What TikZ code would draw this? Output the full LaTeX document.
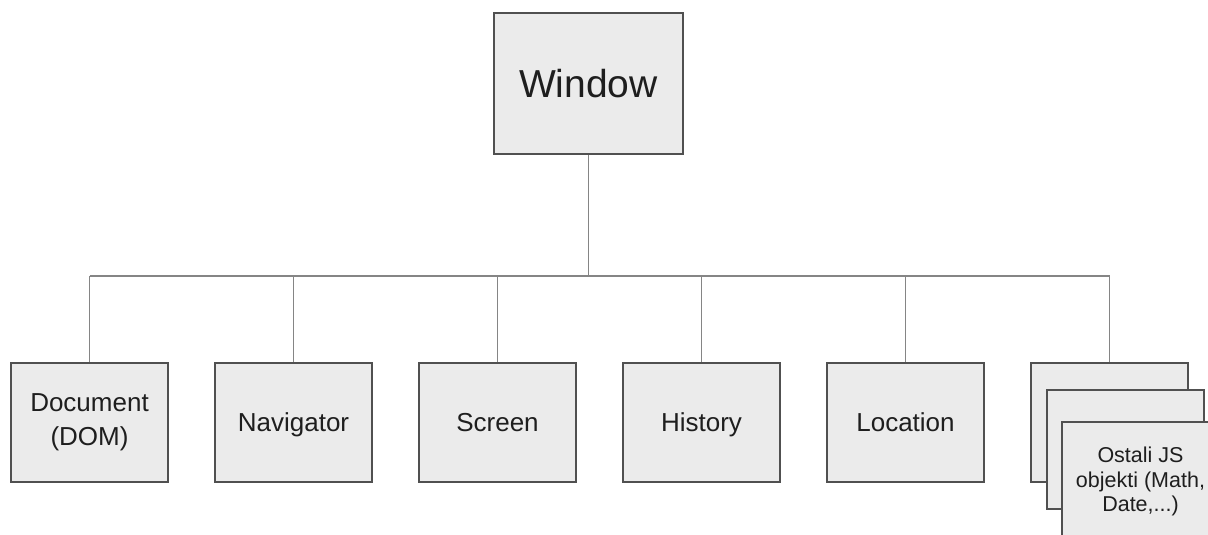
\documentclass[tikz,border=0pt]{standalone}
\usepackage{fontspec}
\setmainfont{Liberation Sans}
\definecolor{boxfill}{HTML}{EBEBEB}
\definecolor{boxedge}{HTML}{505050}
\definecolor{wire}{HTML}{858585}
\definecolor{ink}{HTML}{1E1E1E}
\tikzset{
  objbox/.style={draw=boxedge, line width=2pt, fill=boxfill, text=ink,
    minimum width=157pt, minimum height=119pt, inner sep=0pt,
    align=center, font=\fontsize{26}{34}\selectfont},
  oneline/.style={text height=18.6pt, text depth=0pt},
  rootbox/.style={objbox, minimum width=189pt, minimum height=141pt,
    font=\fontsize{39}{44}\selectfont, text height=27.9pt, text depth=0pt},
  stackbox/.style={objbox, font=\fontsize{21.5}{24.5}\selectfont},
  wire/.style={draw=wire, line width=1.5pt}
}
\begin{document}
\begin{tikzpicture}[x=1pt, y=-1pt]
\useasboundingbox (0,0) rectangle (1208,535);
\clip (0,0) rectangle (1208,535);

% root object
\node[rootbox] (win) at (588.5,83.5) {Window};

% child objects
\node[objbox] (doc) at (89.5,422.5) {Document\\(DOM)};
\node[objbox, oneline] (nav) at (293.5,422.5) {Navigator};
\node[objbox, oneline] (scr) at (497.5,422.5) {Screen};
\node[objbox, oneline] (his) at (701.5,422.5) {History};
\node[objbox, oneline] (loc) at (905.5,422.5) {Location};

% stack of the remaining JS objects
\node[objbox] (oth) at (1109.5,422.5) {};
\node[objbox] (oth2) at (1125.5,449.5) {};
\node[stackbox] (oth3) at (1140.5,481.5) {Ostali JS\\objekti (Math,\\Date,...)};

% tree connectors
\coordinate (bus) at (win.south |- 0,276);
\draw[wire] (win.south) -- (bus);
\draw[wire] (doc.north |- bus) -- (oth.north |- bus);
\foreach \n in {doc,nav,scr,his,loc,oth}
  \draw[wire] (\n.north |- bus) -- (\n.north);
\end{tikzpicture}
\end{document}
